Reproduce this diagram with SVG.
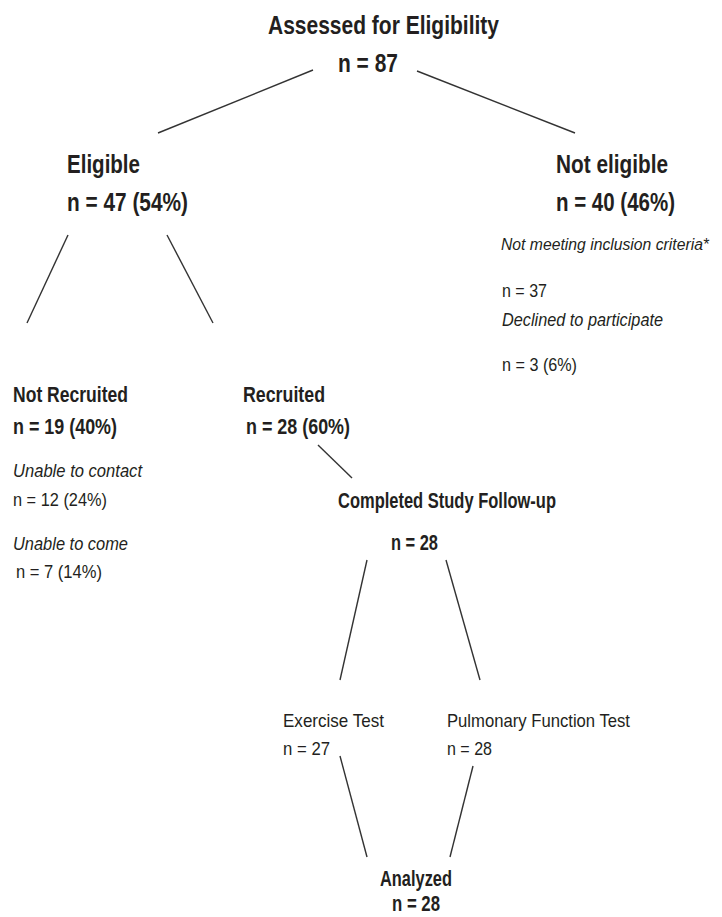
<svg xmlns="http://www.w3.org/2000/svg" width="722" height="917" viewBox="0 0 722 917">
<style>
text{font-family:"Liberation Sans",Arial,sans-serif;fill:#231f20;}
.b1{font-size:26px;font-weight:bold;}
.b2{font-size:22px;font-weight:bold;}
.r{font-size:19px;}
.i{font-size:19px;font-style:italic;}
.c line{stroke:#333;stroke-width:1.4;}
</style>
<rect width="722" height="917" fill="#fff"/>
<g class="c" id="connectors">
<line x1="313" y1="70" x2="158" y2="133"/>
<line x1="417" y1="71" x2="575" y2="133"/>
<line x1="68" y1="235" x2="27" y2="323"/>
<line x1="167" y1="235" x2="213" y2="323"/>
<line x1="318" y1="445" x2="352" y2="478"/>
<line x1="367" y1="560" x2="340" y2="680"/>
<line x1="446" y1="560" x2="480" y2="680"/>
<line x1="340" y1="756" x2="367" y2="857"/>
<line x1="473" y1="766" x2="450" y2="857"/>
</g>
<g id="assessed">
<text class="b1" x="268" y="34" textLength="231" lengthAdjust="spacingAndGlyphs">Assessed for Eligibility</text>
<text class="b1" x="338" y="72" textLength="60" lengthAdjust="spacingAndGlyphs">n = 87</text>
</g>
<g id="eligible">
<text class="b1" x="67" y="173" textLength="73" lengthAdjust="spacingAndGlyphs">Eligible</text>
<text class="b1" x="67" y="211" textLength="121" lengthAdjust="spacingAndGlyphs">n = 47 (54%)</text>
</g>
<g id="not-eligible">
<text class="b1" x="556" y="173" textLength="112" lengthAdjust="spacingAndGlyphs">Not eligible</text>
<text class="b1" x="556" y="211" textLength="119" lengthAdjust="spacingAndGlyphs">n = 40 (46%)</text>
<text class="i" style="font-size:16px" x="501" y="250" textLength="208" lengthAdjust="spacingAndGlyphs">Not meeting inclusion criteria*</text>
<text class="r" x="502" y="297" textLength="45" lengthAdjust="spacingAndGlyphs">n = 37</text>
<text class="i" x="502" y="326" textLength="161" lengthAdjust="spacingAndGlyphs">Declined to participate</text>
<text class="r" x="502" y="371" textLength="75" lengthAdjust="spacingAndGlyphs">n = 3 (6%)</text>
</g>
<g id="not-recruited">
<text class="b2" x="13" y="402" textLength="115" lengthAdjust="spacingAndGlyphs">Not Recruited</text>
<text class="b2" x="13" y="434" textLength="104" lengthAdjust="spacingAndGlyphs">n = 19 (40%)</text>
<text class="i" x="13" y="477" textLength="129" lengthAdjust="spacingAndGlyphs">Unable to contact</text>
<text class="r" x="13" y="506" textLength="94" lengthAdjust="spacingAndGlyphs">n = 12 (24%)</text>
<text class="i" x="13" y="550" textLength="115" lengthAdjust="spacingAndGlyphs">Unable to come</text>
<text class="r" x="16" y="578" textLength="86" lengthAdjust="spacingAndGlyphs">n = 7 (14%)</text>
</g>
<g id="recruited">
<text class="b2" x="243" y="402" textLength="82" lengthAdjust="spacingAndGlyphs">Recruited</text>
<text class="b2" x="246" y="434" textLength="104" lengthAdjust="spacingAndGlyphs">n = 28 (60%)</text>
</g>
<g id="completed">
<text class="b2" x="338" y="508" textLength="218" lengthAdjust="spacingAndGlyphs">Completed Study Follow-up</text>
<text class="b2" x="391" y="550" textLength="47" lengthAdjust="spacingAndGlyphs">n = 28</text>
</g>
<g id="exercise">
<text class="r" x="283" y="727" textLength="101" lengthAdjust="spacingAndGlyphs">Exercise Test</text>
<text class="r" x="283" y="755" textLength="47" lengthAdjust="spacingAndGlyphs">n = 27</text>
</g>
<g id="pulmonary">
<text class="r" x="447" y="727" textLength="183" lengthAdjust="spacingAndGlyphs">Pulmonary Function Test</text>
<text class="r" x="447" y="755" textLength="45" lengthAdjust="spacingAndGlyphs">n = 28</text>
</g>
<g id="analyzed">
<text class="b2" x="380" y="886" textLength="72" lengthAdjust="spacingAndGlyphs">Analyzed</text>
<text class="b2" x="392" y="911" textLength="48" lengthAdjust="spacingAndGlyphs">n = 28</text>
</g>
</svg>
